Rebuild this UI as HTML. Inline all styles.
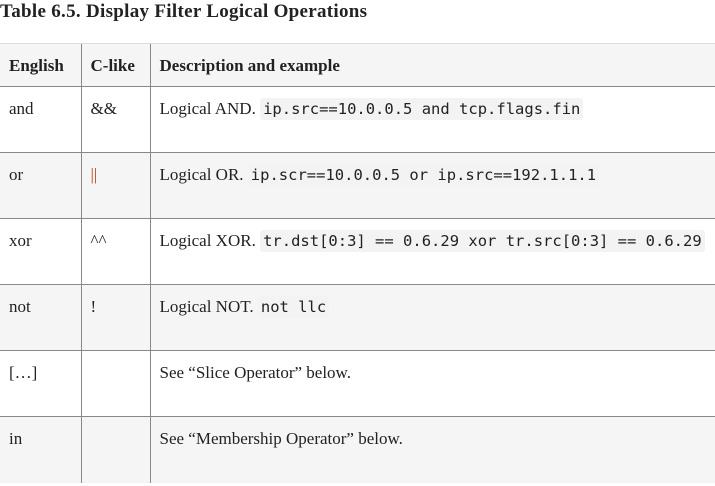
<!DOCTYPE html>
<html><head><style>
body{margin:0;width:715px;height:486px;background:#fff;font-family:"Liberation Serif",serif;color:#222;overflow:hidden;position:relative}
.t{position:absolute;left:0;top:1px;font-weight:bold;font-size:19px;letter-spacing:.3px}
table{position:absolute;left:0;top:43px;width:730px;border-collapse:collapse;font-size:17px;line-height:20px;table-layout:fixed}
td,th{border-top:1px solid #888;vertical-align:top;text-align:left;padding:12px 9px 0 9px;overflow:visible;white-space:nowrap}
tr{height:66px}
tr.h{height:43px}
td+td,th+th{border-left:1px solid #888}
tr.g{background:#f5f5f5}
code{font-family:"DejaVu Sans Mono",monospace;font-size:15.5px;background:#f3f3f3;padding:2px 3px;border-radius:3px}
.r{color:#b5441f}
</style></head><body>
<div class="t">Table 6.5. Display Filter Logical Operations</div>
<table>
<colgroup><col style="width:81px"><col style="width:69px"><col></colgroup>
<tr class="g h"><th style="border-top-color:#ddd">English</th><th style="border-top-color:#ddd">C-like</th><th style="border-top-color:#ddd">Description and example</th></tr>
<tr><td>and</td><td>&amp;&amp;</td><td>Logical AND. <code>ip.src==10.0.0.5 and tcp.flags.fin</code></td></tr>
<tr class="g"><td>or</td><td class="r">||</td><td>Logical OR. <code>ip.scr==10.0.0.5 or ip.src==192.1.1.1</code></td></tr>
<tr><td>xor</td><td>^^</td><td>Logical XOR. <code>tr.dst[0:3] == 0.6.29 xor tr.src[0:3] == 0.6.29</code></td></tr>
<tr class="g"><td>not</td><td>!</td><td>Logical NOT. <code>not llc</code></td></tr>
<tr><td>[…]</td><td></td><td>See “Slice Operator” below.</td></tr>
<tr class="g"><td>in</td><td></td><td>See “Membership Operator” below.</td></tr>
</table>
</body></html>
